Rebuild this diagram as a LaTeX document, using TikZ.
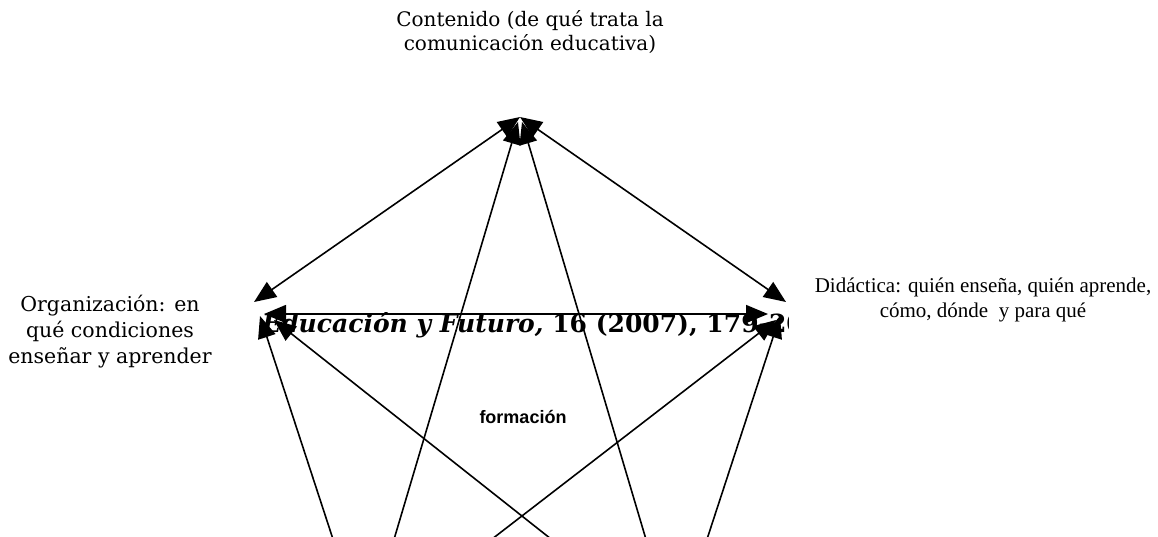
\documentclass[tikz,border=0pt]{standalone}
\usepackage{fontspec}
\setmainfont{Liberation Serif}
\newfontfamily\bkfont{DejaVu Serif}
\newfontfamily\arfont{Liberation Sans}
\usetikzlibrary{arrows.meta}
\begin{document}
\begin{tikzpicture}[x=1pt,y=-1pt,
  link/.style={line width=1.6pt,
    {Triangle[length=22pt,width=18pt]}-{Triangle[length=22pt,width=18pt]}},
  bklabel/.style={align=center, font=\bkfont\fontsize{20}{24}\selectfont, inner sep=0pt},
  tmlabel/.style={align=center, font=\fontsize{21}{25}\selectfont, inner sep=0pt}]
\useasboundingbox (0,0) rectangle (1158,536);
\clip (0,0) rectangle (1158,536);
% labels
\node[bklabel] (cont) at (530,32) {Contenido (de qué trata la\\comunicación educativa)};
\node[bklabel, font=\bkfont\fontsize{20.5}{26}\selectfont] (org) at (110,332) {Organización: en\\qué condiciones\\enseñar y aprender};
\node[tmlabel] (did) at (983,300) {Didáctica: quién enseña, quién aprende,\\cómo, dónde\ \ y para qué};
\node[font=\arfont\bfseries\fontsize{18}{20}\selectfont, inner sep=0pt] (form) at (523,417) {formación};
\begin{scope}
  \clip (240,290) rectangle (788,345);
  \node[anchor=base west, inner sep=0pt, font=\bkfont\bfseries\itshape\fontsize{25}{28}\selectfont] (hdr) at (262,332) {Educación y Futuro, \upshape 16 (2007), 179-200};
\end{scope}
% vertices
\coordinate (T) at (520,117);
\coordinate (Ta) at (518,122);
\coordinate (Tb) at (522,122);
\coordinate (L) at (254,302);
\coordinate (Lh) at (264,314);
\coordinate (La) at (260,316);
\coordinate (Lb) at (274,320);
\coordinate (R) at (786,302);
\coordinate (Rh) at (768,314);
\coordinate (Ra) at (776,320);
\coordinate (Rb) at (780,316);
\coordinate (BL) at (365,637);
\coordinate (BR) at (675,637);
% connectors
\draw[link] (T) -- (L);
\draw[link] (T) -- (R);
\draw[link] (Ta) -- (BL);
\draw[link] (Tb) -- (BR);
\draw[link] (Lh) -- (Rh);
\draw[link] (La) -- (BL);
\draw[link] (Lb) -- (BR);
\draw[link] (Ra) -- (BL);
\draw[link] (Rb) -- (BR);
\end{tikzpicture}
\end{document}
